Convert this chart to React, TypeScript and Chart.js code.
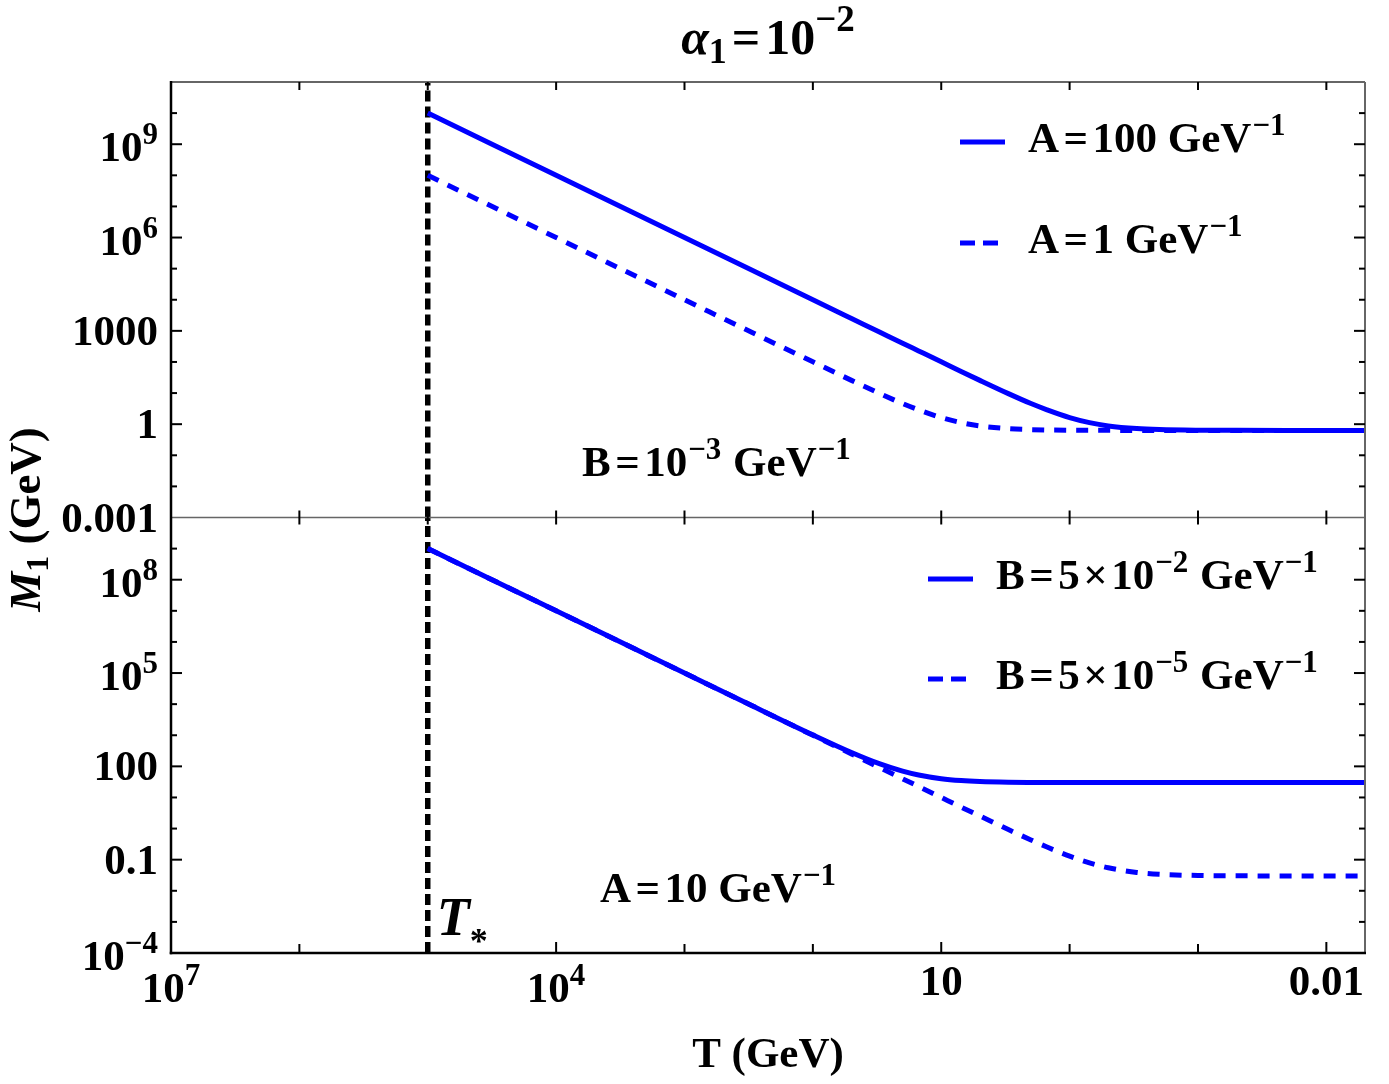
import { useEffect, useRef } from "react"
import { Chart, registerables } from "chart.js"

Chart.register(...registerables)

const temps = [1e5, 1e4, 1e3, 300, 100, 50, 30, 20, 15, 10, 7, 5, 3, 2, 1.5, 1, 0.7, 0.5, 0.3, 0.2, 0.1, 0.05, 0.02, 0.01, 0.005]

// upper panel, B = 1e-3 GeV^-1
const massA100 = [1e10, 1e8, 1e6, 9e4, 1e4, 2500, 900, 400, 226, 101, 49.6, 25.6, 9.6, 4.6, 2.9, 1.63, 1.12, 0.88, 0.72, 0.67, 0.64, 0.633, 0.63, 0.63, 0.63]
const massA1 = [1e8, 1e6, 1e4, 900, 101, 25.6, 9.6, 4.6, 2.9, 1.63, 1.12, 0.88, 0.72, 0.67, 0.65, 0.64, 0.635, 0.633, 0.63, 0.63, 0.63, 0.63, 0.63, 0.63, 0.63]

// lower panel, A = 10 GeV^-1
const massB5e2 = [1e9, 1e7, 1e5, 9030, 1030, 280, 120, 70, 52.5, 40, 34.9, 32.5, 30.9, 30.4, 30.2, 30.1, 30, 30, 30, 30, 30, 30, 30, 30, 30]
const massB5e5 = [1e9, 1e7, 1e5, 9000, 1000, 250, 90, 40, 22.5, 10, 4.9, 2.53, 0.93, 0.43, 0.255, 0.13, 0.079, 0.055, 0.039, 0.034, 0.031, 0.0303, 0.03, 0.03, 0.03]

const tStar = 1e5

// tick labels ("^" starts a superscript)
const xTicks = [1e7, 1e4, 10, 0.01]
const xTickLabels = ["10^7", "10^4", "10", "0.01"]
const topTicks = [1e-3, 1, 1e3, 1e6, 1e9]
const topTickLabels = ["0.001", "1", "1000", "10^6", "10^9"]
const bottomTicks = [1e-4, 0.1, 100, 1e5, 1e8]
const bottomTickLabels = ["10^\u22124", "0.1", "100", "10^5", "10^8"]

const FAMILY = '"Liberation Serif", "Times New Roman", Times, serif'
const MAIN = 43
const SUP = 31
const RAISE = 17
const BLUE = "#0000ff"

type Part = { t: string; size?: number; italic?: boolean; dy?: number; pad?: number }

const fontOf = (p: Part) => `${p.italic ? "italic " : ""}bold ${p.size ?? MAIN}px ${FAMILY}`
const sup = (t: string): Part => ({ t, size: SUP, dy: -RAISE, pad: 2 })
const eq: Part = { t: "=", pad: 9 }
const times: Part = { t: "\u00d7", pad: 7 }

function partsWidth(ctx: CanvasRenderingContext2D, parts: Part[]) {
  let w = 0
  for (const p of parts) {
    ctx.font = fontOf(p)
    w += ctx.measureText(p.t).width + (p.pad ?? 0)
  }
  return w
}

function drawParts(ctx: CanvasRenderingContext2D, parts: Part[], x: number, y: number, align = "left") {
  const w = partsWidth(ctx, parts)
  let cx = align === "left" ? x : align === "right" ? x - w : x - w / 2
  ctx.textAlign = "left"
  ctx.textBaseline = "alphabetic"
  for (const p of parts) {
    ctx.font = fontOf(p)
    const pad = p.pad ?? 0
    ctx.fillText(p.t, cx + pad / 2, y + (p.dy ?? 0))
    cx += ctx.measureText(p.t).width + pad
  }
}

function labelParts(label: string): Part[] {
  const [base, exp] = label.split("^")
  return exp ? [{ t: base }, { ...sup(exp), pad: 0 }] : [{ t: base }]
}

function line(ctx: CanvasRenderingContext2D, x1: number, y1: number, x2: number, y2: number) {
  ctx.beginPath()
  ctx.moveTo(x1, y1)
  ctx.lineTo(x2, y2)
  ctx.stroke()
}

const decor = {
  id: "decor",
  afterDraw(chart: any) {
    const ctx: CanvasRenderingContext2D = chart.ctx
    const { left, right } = chart.chartArea
    const xs = chart.scales.x
    const yt = chart.scales.yTop
    const yb = chart.scales.yBot
    const top = yt.top
    const mid = yt.bottom
    const bottom = yb.bottom

    ctx.save()
    ctx.lineCap = "butt"

    // frame
    ctx.strokeStyle = "#666"
    ctx.lineWidth = 2
    line(ctx, left, top, right, top)
    line(ctx, right, top, right, bottom)
    ctx.lineWidth = 1.5
    line(ctx, left, mid, right, mid)
    ctx.strokeStyle = "#000"
    ctx.lineWidth = 2.5
    line(ctx, left, top - 1, left, bottom + 1.25)
    line(ctx, left - 1.25, bottom, right + 1, bottom)

    // x ticks on every decade
    ctx.lineWidth = 2
    for (let e = -2; e <= 6; e++) {
      const px = xs.getPixelForValue(10 ** e)
      const major = xTicks.includes(10 ** e)
      line(ctx, px, bottom, px, bottom - (major ? 11 : 9))
      line(ctx, px, top, px, top + 8)
      line(ctx, px, mid - 7, px, mid + 7)
    }

    // y ticks on every decade
    const yTicks = (scale: any, lo: number, hi: number, majors: number[]) => {
      for (let e = lo + 1; e < hi; e++) {
        const py = scale.getPixelForValue(10 ** e)
        const major = majors.some((m) => Math.abs(Math.log10(m) - e) < 1e-6)
        line(ctx, left, py, left + (major ? 11 : 6), py)
        line(ctx, right, py, right - (major ? 11 : 6), py)
      }
    }
    yTicks(yt, -3, 11, topTicks)
    yTicks(yb, -4, 10, bottomTicks)

    // tick labels
    ctx.fillStyle = "#000"
    xTicks.forEach((v, i) => {
      const parts = labelParts(xTickLabels[i])
      drawParts(ctx, parts, xs.getPixelForValue(v), bottom + (parts.length > 1 ? 49 : 42), "center")
    })
    const yLabels = (scale: any, ticks: number[], labels: string[]) => {
      ticks.forEach((v, i) => {
        const parts = labelParts(labels[i])
        drawParts(ctx, parts, left - 13, scale.getPixelForValue(v) + (parts.length > 1 ? 17 : 14), "right")
      })
    }
    yLabels(yt, topTicks, topTickLabels)
    yLabels(yb, bottomTicks, bottomTickLabels)

    // titles
    drawParts(ctx, [{ t: "\u03b1", italic: true, size: 50 }, { t: "1", size: 36, dy: 9 }, { t: "=", size: 50, pad: 10 }, { t: "10", size: 50 }, { t: "\u22122", size: 37, dy: -23 }], (left + right) / 2, 54, "center")
    drawParts(ctx, [{ t: "T (GeV)" }], (left + right) / 2, 1067, "center")
    ctx.save()
    ctx.translate(40, mid + 2)
    ctx.rotate(-Math.PI / 2)
    drawParts(ctx, [{ t: "M", italic: true, size: 45 }, { t: "1", size: 32, dy: 8 }, { t: " (GeV)", size: 45 }], 0, 0, "center")
    ctx.restore()

    // T* marker
    const ts = xs.getPixelForValue(tStar)
    drawParts(ctx, [{ t: "T", italic: true, size: 54 }, { t: "*", size: 36, dy: 18 }], ts + 9, 935)

    // panel notes
    drawParts(ctx, [{ t: "B" }, eq, { t: "10" }, sup("\u22123"), { t: " GeV" }, sup("\u22121")], 582, 476)
    drawParts(ctx, [{ t: "A" }, eq, { t: "10 GeV" }, sup("\u22121")], 600, 902)

    // legends
    const legendRow = (x0: number, len: number, y: number, dashed: boolean, parts: Part[], tx: number) => {
      ctx.strokeStyle = BLUE
      ctx.lineWidth = 5
      ctx.setLineDash(dashed ? [15, 8] : [])
      line(ctx, x0, y, x0 + len, y)
      ctx.setLineDash([])
      drawParts(ctx, parts, tx, y + 10)
    }
    legendRow(960, 45, 142, false, [{ t: "A" }, eq, { t: "100 GeV" }, sup("\u22121")], 1028)
    legendRow(960, 38, 243, true, [{ t: "A" }, eq, { t: "1 GeV" }, sup("\u22121")], 1028)
    legendRow(928, 45, 579, false, [{ t: "B" }, eq, { t: "5" }, times, { t: "10" }, sup("\u22122"), { t: " GeV" }, sup("\u22121")], 996)
    legendRow(928, 38, 679, true, [{ t: "B" }, eq, { t: "5" }, times, { t: "10" }, sup("\u22125"), { t: " GeV" }, sup("\u22121")], 996)

    ctx.restore()
  },
}

export default function App() {
  const canvasRef = useRef<HTMLCanvasElement>(null)

  useEffect(() => {
    if (!canvasRef.current) return
    const pts = (ys: number[]) => temps.map((t, i) => ({ x: t, y: ys[i] }))
    const curve = { borderColor: BLUE, borderWidth: 5, pointRadius: 0, cubicInterpolationMode: "monotone" as const }
    const marker = { borderColor: "#000", borderWidth: 5.5, borderDash: [11, 5], pointRadius: 0 }

    const chart = new Chart(canvasRef.current, {
      type: "line",
      data: {
        datasets: [
          { label: "A=100", data: pts(massA100), yAxisID: "yTop", ...curve },
          { label: "A=1", data: pts(massA1), yAxisID: "yTop", borderDash: [12, 10], ...curve },
          { label: "B=5e-2", data: pts(massB5e2), yAxisID: "yBot", ...curve },
          { label: "B=5e-5", data: pts(massB5e5), yAxisID: "yBot", borderDash: [12, 10], ...curve },
          { label: "T* top", data: [{ x: tStar, y: 1e-3 }, { x: tStar, y: 1e11 }], yAxisID: "yTop", ...marker },
          { label: "T* bottom", data: [{ x: tStar, y: 1e-4 }, { x: tStar, y: 1e10 }], yAxisID: "yBot", ...marker },
        ],
      },
      options: {
        animation: false,
        responsive: false,
        devicePixelRatio: 1,
        layout: { padding: { left: 171, top: 82, right: 24, bottom: 131 } },
        plugins: {
          legend: { display: false },
          tooltip: { enabled: false },
        },
        scales: {
          x: { type: "logarithmic", reverse: true, min: 0.005, max: 1e7, display: false },
          yTop: { type: "logarithmic", min: 1e-3, max: 1e11, display: false, position: "left", stack: "panels", stackWeight: 1, weight: 2 },
          yBot: { type: "logarithmic", min: 1e-4, max: 1e10, display: false, position: "left", stack: "panels", stackWeight: 1, weight: 1 },
        },
      } as any,
      plugins: [decor],
    })

    return () => chart.destroy()
  }, [])

  return (
    <div style={{ position: "fixed", left: 0, top: 0, width: 1389, height: 1084, background: "#fff" }}>
      <canvas ref={canvasRef} width={1389} height={1084} />
    </div>
  )
}
